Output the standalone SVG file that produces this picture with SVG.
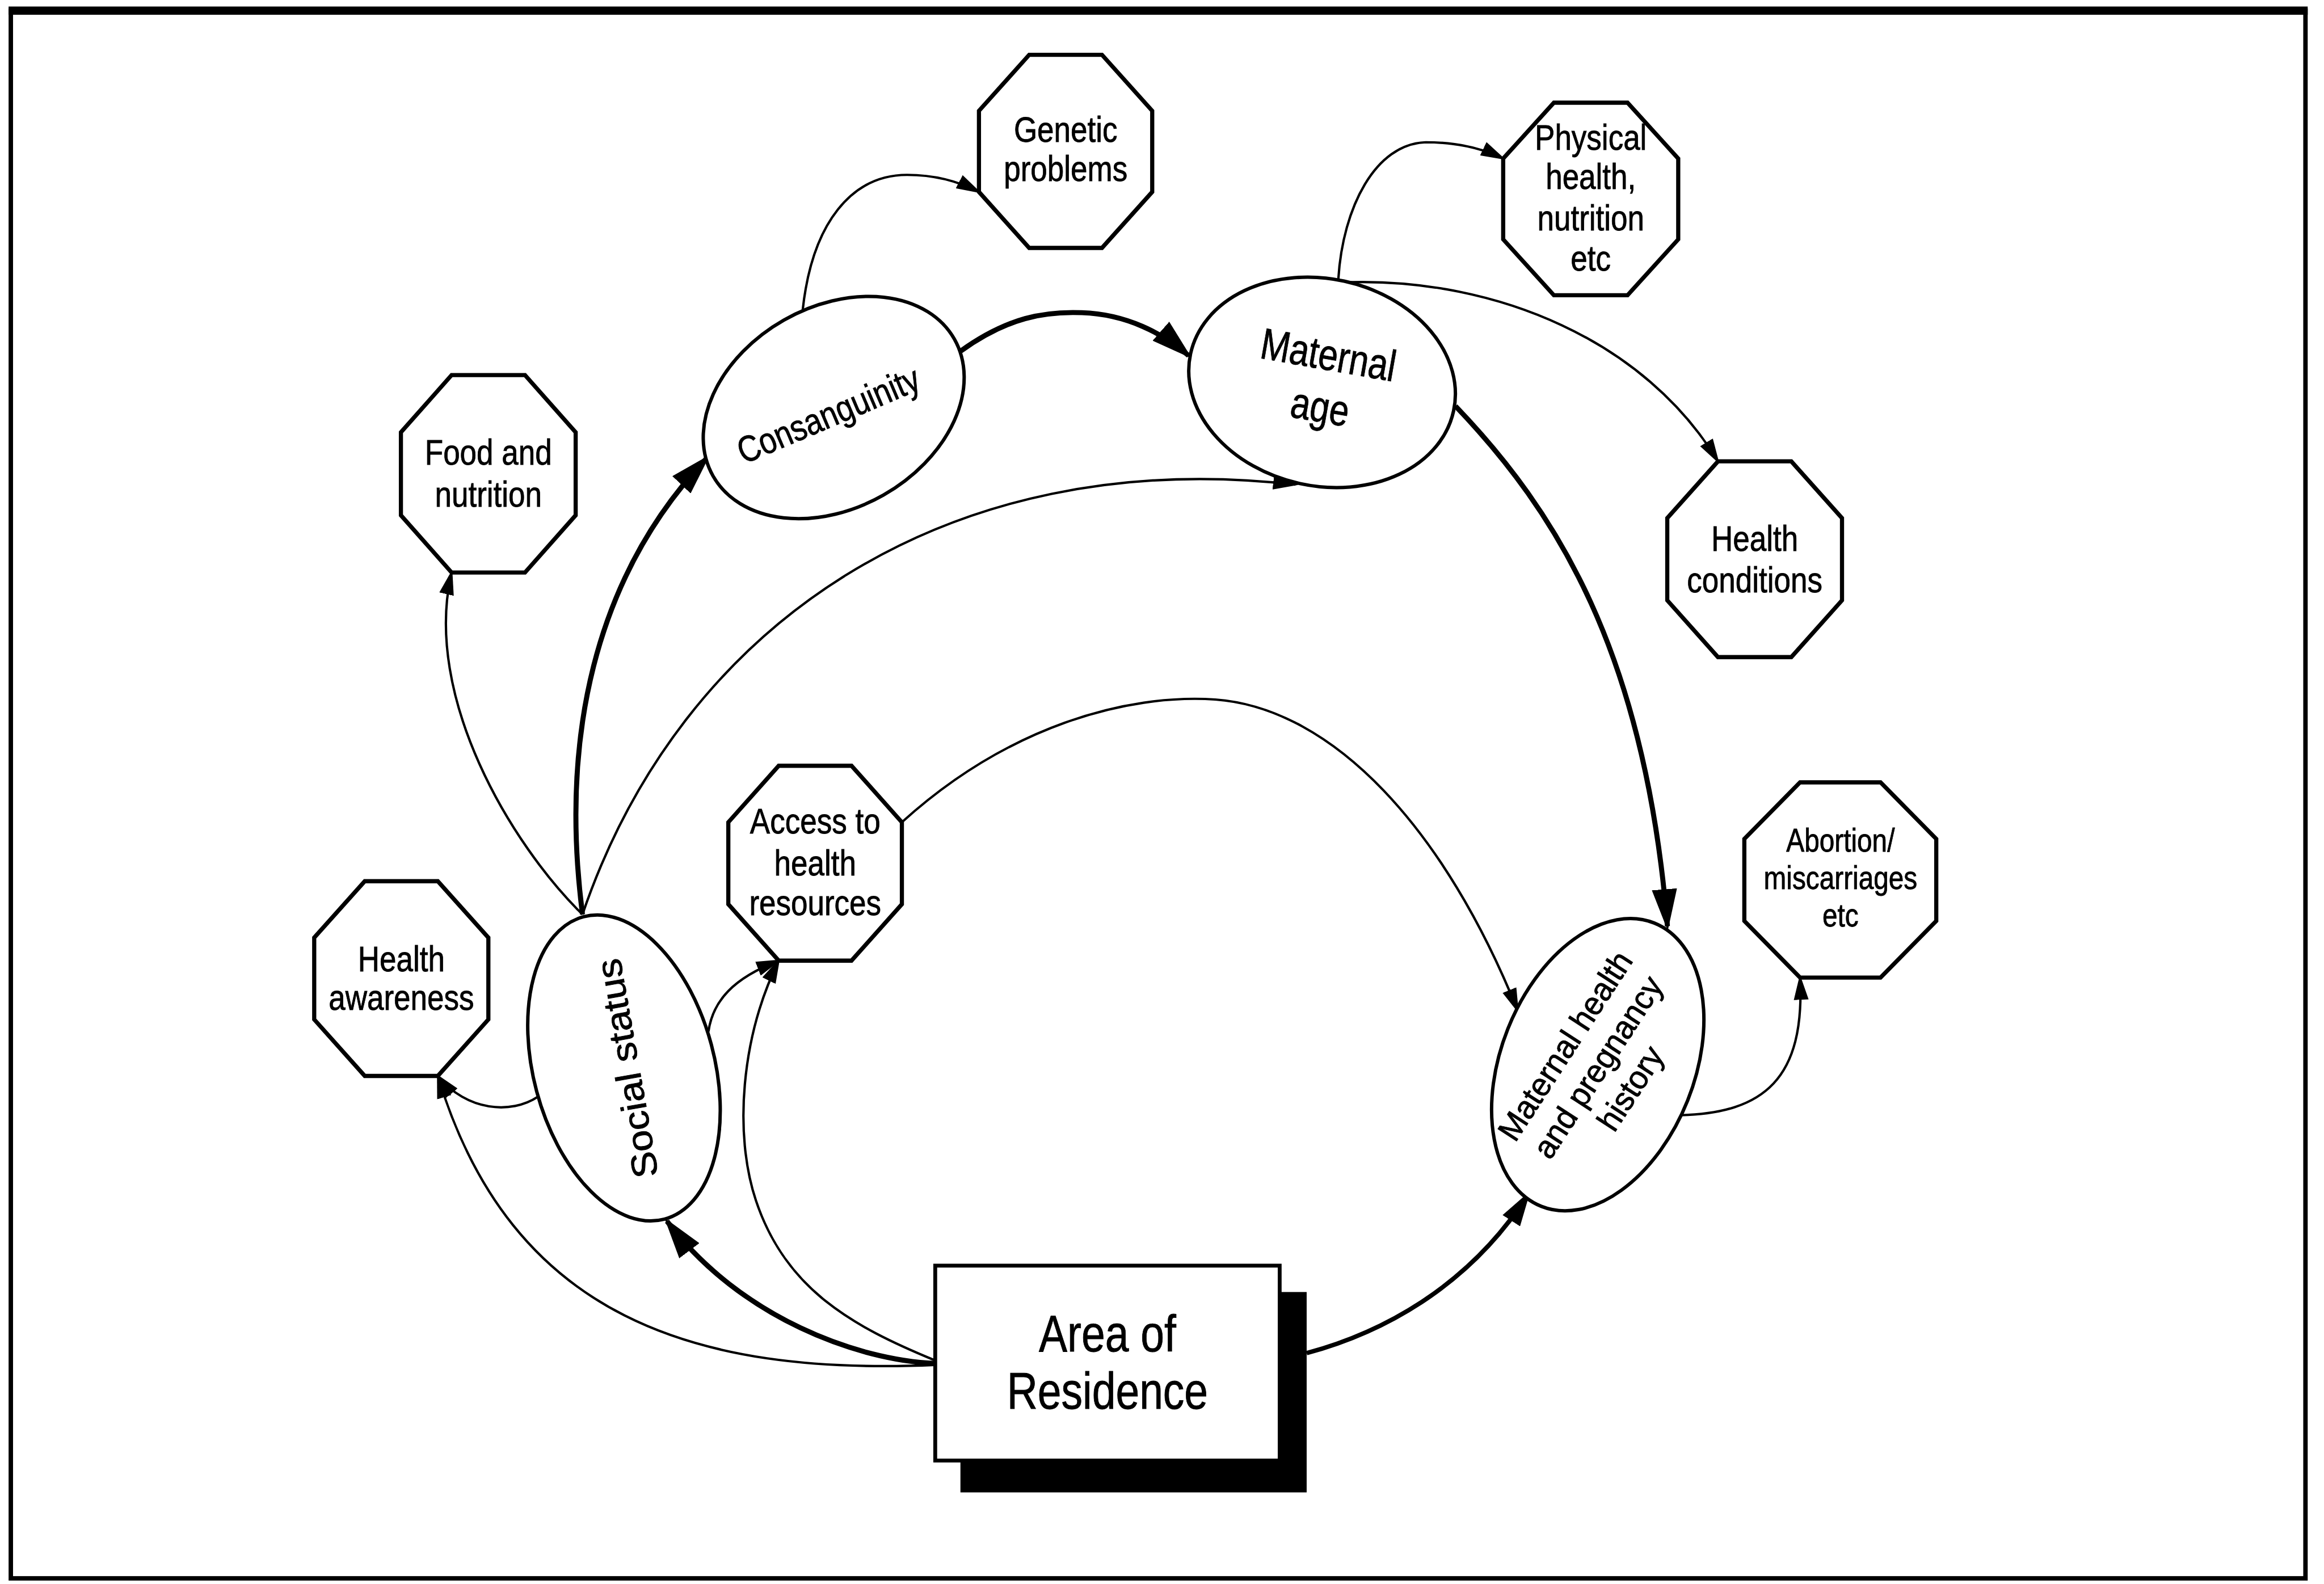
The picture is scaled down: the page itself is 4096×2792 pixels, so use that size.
<svg xmlns="http://www.w3.org/2000/svg" width="4096" height="2792" viewBox="0 0 4096 2792">
<defs>
<style>
.frame{fill:none;stroke:#000;stroke-width:3}
.oct{fill:#fff;stroke:#000;stroke-width:2.8;stroke-linejoin:miter}
.ell{fill:#fff;stroke:#000;stroke-width:2.3}
.box{fill:#fff;stroke:#000;stroke-width:2.6}
.shadow{fill:#000}
.lbl{font-family:"Liberation Sans",Arial,Helvetica,sans-serif;fill:#000;stroke:#000;stroke-width:0.35;text-anchor:middle}
.f-oct{font-size:24.3px}
.f-ab{font-size:22.3px}
.f-area{font-size:34.6px}
.con{fill:none;stroke:#000}
.thin{stroke-width:1.6;marker-end:url(#arrThin)}
.thick{stroke-width:3.4;marker-end:url(#arrThick)}
.mid{stroke-width:3;marker-end:url(#arrMid)}
</style>
<marker id="arrThin" markerUnits="userSpaceOnUse" markerWidth="17" markerHeight="10" refX="15" refY="5" orient="auto"><path d="M0,0 L17,5 L0,10 z" fill="#000"/></marker>
<marker id="arrMid" markerUnits="userSpaceOnUse" markerWidth="24" markerHeight="14" refX="21" refY="7" orient="auto"><path d="M0,0 L24,7 L0,14 z" fill="#000"/></marker>
<marker id="arrThick" markerUnits="userSpaceOnUse" markerWidth="28" markerHeight="17" refX="25" refY="8.5" orient="auto"><path d="M0,0 L28,8.5 L0,17 z" fill="#000"/></marker>
</defs>
<rect width="4096" height="2792" fill="#fff"/>
<g transform="scale(2.612245)">
<g id="frame">
<rect class="frame" x="7.3" y="7.2" width="1548.2" height="1057.8"/>
<line x1="5.8" y1="7.2" x2="1557" y2="7.2" stroke="#000" stroke-width="5.5"/>
</g>
<g id="connectors">
<path class="con thin" d="M541.6,209 C548,150 575,118 612,118 C630,118 646,122 660.5,129.5"/>
<path class="con thick" d="M648,237 C680,214 705,210 730,211 C760,212 785,225 802,240"/>
<path class="con thin" d="M903,188 C906,140 928,97 962,96 C982,96 1000,100 1014.2,107"/>
<path class="con thin" d="M911,190.4 C1010,188 1110,230 1159.1,311.3"/>
<path class="con thick" d="M982,274 C1050,345 1110,440 1125,625"/>
<path class="con thick" d="M393,617 C378,500 400,390 477,309"/>
<path class="con thin" d="M393,617 C345,570 285,470 304.7,386.3"/>
<path class="con thin" d="M393,617 C460,420 640,300 874,327"/>
<path class="con thin" d="M363,740 C345,752 315,750 295.4,726"/>
<path class="con thin" d="M631,921 C470,928 345,890 295.4,726"/>
<path class="con thin" d="M478,696 C481,675 495,660 525.4,648.2"/>
<path class="con thin" d="M631,918 C575,895 530,870 510,810 C495,765 500,700 525.4,648.2"/>
<path class="con thin" d="M608.5,554.8 C680,490 760,468 820,472 C900,478 975,560 1024,682"/>
<path class="con thick" d="M631,920 C580,918 500,890 450,824"/>
<path class="con mid" d="M881.6,913 C930,900 990,870 1031,806"/>
<path class="con thin" d="M1134,752.5 C1190,751 1218,728 1214.5,659.6"/>
</g>
<g id="node-genetic">
<polygon class="oct" points="694.4,37 743.5,37 777.4,74.8 777.4,129.5 743.5,167.3 694.4,167.3 660.5,129.5 660.5,74.8"/>
<text class="lbl f-oct" transform="translate(719,0) scale(0.835,1)"><tspan x="0" y="95.8">Genetic</tspan><tspan x="0" y="122.2">problems</tspan></text>
</g>
<g id="node-physical">
<polygon class="oct" points="1048.4,69.3 1098.1,69.3 1132.3,107 1132.3,161.5 1098.1,199.2 1048.4,199.2 1014.2,161.5 1014.2,107"/>
<text class="lbl f-oct" transform="translate(1073.3,0) scale(0.835,1)"><tspan x="0" y="101">Physical</tspan><tspan x="0" y="127.5">health,</tspan><tspan x="0" y="155.5">nutrition</tspan><tspan x="0" y="182.5">etc</tspan></text>
</g>
<g id="node-health-conditions">
<polygon class="oct" points="1159.1,311.3 1208.6,311.3 1242.8,349.6 1242.8,405.1 1208.6,443.4 1159.1,443.4 1124.9,405.1 1124.9,349.6"/>
<text class="lbl f-oct" transform="translate(1183.9,0) scale(0.835,1)"><tspan x="0" y="371.6">Health</tspan><tspan x="0" y="399.5">conditions</tspan></text>
</g>
<g id="node-food">
<polygon class="oct" points="304.7,253.1 354.2,253.1 388.4,291.7 388.4,347.7 354.2,386.3 304.7,386.3 270.5,347.7 270.5,291.7"/>
<text class="lbl f-oct" transform="translate(329.5,0) scale(0.835,1)"><tspan x="0" y="313.7">Food and</tspan><tspan x="0" y="341.7">nutrition</tspan></text>
</g>
<g id="node-health-awareness">
<polygon class="oct" points="246.1,594.6 295.4,594.6 329.5,632.7 329.5,687.9 295.4,726 246.1,726 212,687.9 212,632.7"/>
<text class="lbl f-oct" transform="translate(270.8,0) scale(0.835,1)"><tspan x="0" y="655.3">Health</tspan><tspan x="0" y="681.4">awareness</tspan></text>
</g>
<g id="node-access">
<polygon class="oct" points="525.4,516.7 574.5,516.7 608.5,554.8 608.5,610.1 574.5,648.2 525.4,648.2 491.4,610.1 491.4,554.8"/>
<text class="lbl f-oct" transform="translate(550,0) scale(0.835,1)"><tspan x="0" y="562.4">Access to</tspan><tspan x="0" y="590.5">health</tspan><tspan x="0" y="617.4">resources</tspan></text>
</g>
<g id="node-abortion">
<polygon class="oct" points="1214.5,527.9 1268.8,527.9 1306.4,566.1 1306.4,621.4 1268.8,659.6 1214.5,659.6 1176.9,621.4 1176.9,566.1"/>
<text class="lbl f-ab" transform="translate(1241.8,0) scale(0.82,1)"><tspan x="0" y="574.5">Abortion/</tspan><tspan x="0" y="599.8">miscarriages</tspan><tspan x="0" y="625.1">etc</tspan></text>
</g>
<g id="node-consanguinity">
<ellipse class="ell" cx="562.5" cy="275" rx="93.6" ry="67.9" transform="rotate(-29.6 562.5 275)"/>
<text class="lbl" font-size="24.8" transform="translate(562.2,287.7) rotate(-23) scale(0.835,1)">Consanguinity</text>
</g>
<g id="node-maternal-age">
<ellipse class="ell" cx="892" cy="258" rx="90.8" ry="69.9" transform="rotate(12.3 892 258)"/>
<text class="lbl" font-size="29.6" transform="translate(894.6,249.5) rotate(10) scale(0.8,1)">Maternal</text>
<text class="lbl" font-size="29.6" transform="translate(889,284.5) rotate(10) scale(0.8,1)">age</text>
</g>
<g id="node-social-status">
<ellipse class="ell" cx="421" cy="720.6" rx="61" ry="105.6" transform="rotate(-15 421 720.6)"/>
<text class="lbl" font-size="24" transform="translate(423,721) rotate(-100) scale(1.1,1)" y="8.4">Social status</text>
</g>
<g id="node-maternal-health">
<ellipse class="ell" cx="1078" cy="718.4" rx="65.3" ry="102.9" transform="rotate(21.7 1078 718.4)"/>
<text class="lbl" font-size="22" transform="translate(1078,720) rotate(-57) scale(0.97,1)"><tspan x="0" y="-18.7">Maternal health</tspan><tspan x="0" y="7.6">and pregnancy</tspan><tspan x="0" y="33.8">history</tspan></text>
</g>
<g id="node-area">
<rect class="shadow" x="648" y="871.8" width="233.6" height="135.2"/>
<rect class="box" x="631" y="854" width="232.4" height="131.5"/>
<text class="lbl f-area" transform="translate(747.2,0) scale(0.83,1)"><tspan x="0" y="911.8">Area of</tspan><tspan x="0" y="950.5">Residence</tspan></text>
</g>
</g>
</svg>
